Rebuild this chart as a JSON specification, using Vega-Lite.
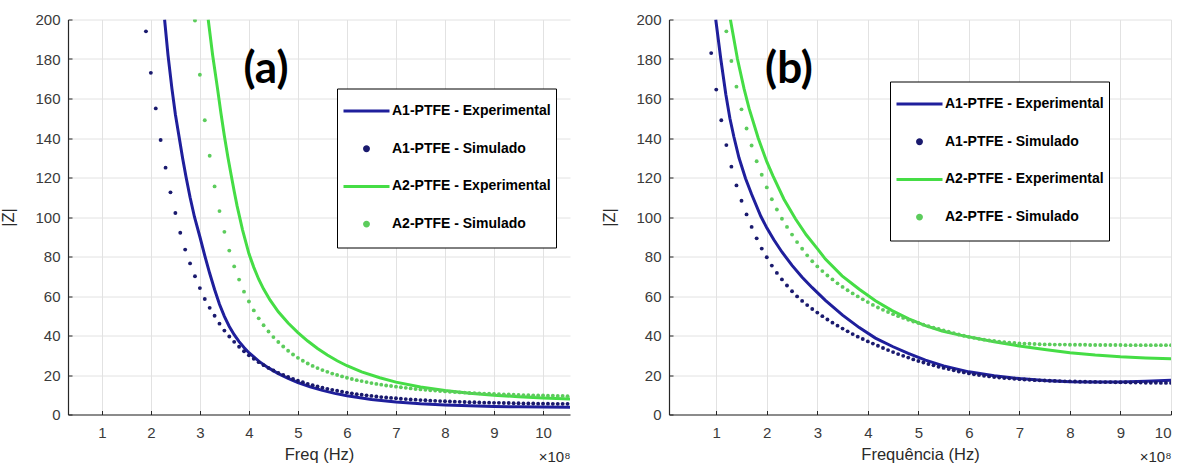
{
"$schema": "https://vega.github.io/schema/vega-lite/v6.json",
"background": "white",
"padding": {"left": 0, "top": 12.5, "right": 5, "bottom": 5},
"config": {
 "view": {"stroke": null},
 "axis": {"grid": true, "gridColor": "#e2e2e2", "gridWidth": 1, "domainColor": "#262626", "domainWidth": 1.2, "tickColor": "#262626", "tickSize": -4, "labelOverlap": false, "labelFont": "Liberation Sans", "labelFontSize": 15, "labelColor": "#3a3a3a", "titleFont": "Liberation Sans", "titleFontSize": 16.5, "titleFontWeight": "normal", "titleColor": "#2a2a2a"},
 "axisX": {"labelPadding": 14.5, "titlePadding": 6},
 "axisY": {"labelPadding": 12, "titlePadding": 18}
},
"datasets": {
 "a": [
  {"s":"A1e","f":2.28,"z":200},{"s":"A1e","f":2.35,"z":182},{"s":"A1e","f":2.43,"z":165},{"s":"A1e","f":2.5,"z":152},{"s":"A1e","f":2.58,"z":140},{"s":"A1e","f":2.65,"z":129.5},{"s":"A1e","f":2.72,"z":120},{"s":"A1e","f":2.8,"z":110},{"s":"A1e","f":2.89,"z":100},{"s":"A1e","f":3.0,"z":90},{"s":"A1e","f":3.1,"z":80.5},{"s":"A1e","f":3.2,"z":71.5},{"s":"A1e","f":3.3,"z":63.3},{"s":"A1e","f":3.4,"z":55.8},{"s":"A1e","f":3.5,"z":49.7},{"s":"A1e","f":3.6,"z":44.6},{"s":"A1e","f":3.7,"z":40.4},{"s":"A1e","f":3.8,"z":36.9},{"s":"A1e","f":3.9,"z":33.9},{"s":"A1e","f":4.0,"z":31.3},{"s":"A1e","f":4.2,"z":27},{"s":"A1e","f":4.4,"z":23.6},{"s":"A1e","f":4.6,"z":20.7},{"s":"A1e","f":4.8,"z":18.3},{"s":"A1e","f":5.0,"z":16.2},{"s":"A1e","f":5.25,"z":14},{"s":"A1e","f":5.5,"z":12.2},{"s":"A1e","f":5.75,"z":10.7},{"s":"A1e","f":6.0,"z":9.5},{"s":"A1e","f":6.5,"z":7.6},{"s":"A1e","f":7.0,"z":6.3},{"s":"A1e","f":7.5,"z":5.4},{"s":"A1e","f":8.0,"z":4.8},{"s":"A1e","f":8.5,"z":4.4},{"s":"A1e","f":9.0,"z":4.1},{"s":"A1e","f":9.5,"z":3.9},{"s":"A1e","f":10.0,"z":3.8},{"s":"A1e","f":10.55,"z":3.7},
  {"s":"A2e","f":3.17,"z":200},{"s":"A2e","f":3.26,"z":182},{"s":"A2e","f":3.36,"z":165},{"s":"A2e","f":3.43,"z":152.5},{"s":"A2e","f":3.5,"z":141},{"s":"A2e","f":3.57,"z":130.5},{"s":"A2e","f":3.64,"z":121},{"s":"A2e","f":3.7,"z":113},{"s":"A2e","f":3.76,"z":105.5},{"s":"A2e","f":3.87,"z":93.5},{"s":"A2e","f":4.0,"z":81.5},{"s":"A2e","f":4.1,"z":74.5},{"s":"A2e","f":4.2,"z":68.5},{"s":"A2e","f":4.3,"z":63.5},{"s":"A2e","f":4.43,"z":58},{"s":"A2e","f":4.6,"z":52},{"s":"A2e","f":4.8,"z":46.3},{"s":"A2e","f":5.0,"z":41.5},{"s":"A2e","f":5.2,"z":37.2},{"s":"A2e","f":5.4,"z":33.4},{"s":"A2e","f":5.6,"z":30.1},{"s":"A2e","f":5.8,"z":27.2},{"s":"A2e","f":6.0,"z":24.7},{"s":"A2e","f":6.3,"z":21.6},{"s":"A2e","f":6.67,"z":18.6},{"s":"A2e","f":7.0,"z":16.4},{"s":"A2e","f":7.5,"z":13.9},{"s":"A2e","f":8.0,"z":12.1},{"s":"A2e","f":8.5,"z":10.8},{"s":"A2e","f":9.0,"z":9.8},{"s":"A2e","f":9.5,"z":9.0},{"s":"A2e","f":10.0,"z":8.4},{"s":"A2e","f":10.55,"z":7.9},
  {"s":"A1s","f":1.9,"z":194},{"s":"A1s","f":2.0,"z":173},{"s":"A1s","f":2.1,"z":155},{"s":"A1s","f":2.2,"z":139},{"s":"A1s","f":2.3,"z":125},{"s":"A1s","f":2.4,"z":112.5},{"s":"A1s","f":2.5,"z":102},{"s":"A1s","f":2.6,"z":92},{"s":"A1s","f":2.7,"z":83.5},{"s":"A1s","f":2.8,"z":76.5},{"s":"A1s","f":2.9,"z":70},{"s":"A1s","f":3.0,"z":64},{"s":"A1s","f":3.1,"z":58.5},{"s":"A1s","f":3.2,"z":54},{"s":"A1s","f":3.3,"z":50},{"s":"A1s","f":3.4,"z":46},{"s":"A1s","f":3.5,"z":42.5},{"s":"A1s","f":3.6,"z":39.5},{"s":"A1s","f":3.7,"z":36.8},{"s":"A1s","f":3.8,"z":34.3},{"s":"A1s","f":3.9,"z":32},{"s":"A1s","f":4.0,"z":30},{"s":"A1s","f":4.1,"z":28.2},{"s":"A1s","f":4.2,"z":26.5},{"s":"A1s","f":4.3,"z":25},{"s":"A1s","f":4.4,"z":23.6},{"s":"A1s","f":4.5,"z":22.3},{"s":"A1s","f":4.6,"z":21.1},{"s":"A1s","f":4.7,"z":20},{"s":"A1s","f":4.8,"z":19},{"s":"A1s","f":4.9,"z":18},{"s":"A1s","f":5.0,"z":17.1},{"s":"A1s","f":5.1,"z":16.3},{"s":"A1s","f":5.2,"z":15.5},{"s":"A1s","f":5.3,"z":14.8},{"s":"A1s","f":5.4,"z":14.2},{"s":"A1s","f":5.5,"z":13.6},{"s":"A1s","f":5.6,"z":13},{"s":"A1s","f":5.7,"z":12.5},{"s":"A1s","f":5.8,"z":12},{"s":"A1s","f":5.9,"z":11.5},{"s":"A1s","f":6.0,"z":11.1},{"s":"A1s","f":6.1,"z":10.7},{"s":"A1s","f":6.2,"z":10.3},{"s":"A1s","f":6.3,"z":10},{"s":"A1s","f":6.4,"z":9.7},{"s":"A1s","f":6.5,"z":9.4},{"s":"A1s","f":6.6,"z":9.1},{"s":"A1s","f":6.7,"z":8.8},{"s":"A1s","f":6.8,"z":8.6},{"s":"A1s","f":6.9,"z":8.4},{"s":"A1s","f":7.0,"z":8.2},{"s":"A1s","f":7.1,"z":8},{"s":"A1s","f":7.2,"z":7.8},{"s":"A1s","f":7.3,"z":7.6},{"s":"A1s","f":7.4,"z":7.5},{"s":"A1s","f":7.5,"z":7.3},{"s":"A1s","f":7.6,"z":7.2},{"s":"A1s","f":7.7,"z":7},{"s":"A1s","f":7.8,"z":6.9},{"s":"A1s","f":7.9,"z":6.8},{"s":"A1s","f":8.0,"z":6.7},{"s":"A1s","f":8.1,"z":6.6},{"s":"A1s","f":8.2,"z":6.5},{"s":"A1s","f":8.3,"z":6.4},{"s":"A1s","f":8.4,"z":6.3},{"s":"A1s","f":8.5,"z":6.2},{"s":"A1s","f":8.6,"z":6.2},{"s":"A1s","f":8.7,"z":6.1},{"s":"A1s","f":8.8,"z":6},{"s":"A1s","f":8.9,"z":6},{"s":"A1s","f":9.0,"z":5.9},{"s":"A1s","f":9.1,"z":5.9},{"s":"A1s","f":9.2,"z":5.8},{"s":"A1s","f":9.3,"z":5.8},{"s":"A1s","f":9.4,"z":5.7},{"s":"A1s","f":9.5,"z":5.7},{"s":"A1s","f":9.6,"z":5.6},{"s":"A1s","f":9.7,"z":5.6},{"s":"A1s","f":9.8,"z":5.6},{"s":"A1s","f":9.9,"z":5.5},{"s":"A1s","f":10.0,"z":5.5},{"s":"A1s","f":10.1,"z":5.5},{"s":"A1s","f":10.2,"z":5.4},{"s":"A1s","f":10.3,"z":5.4},{"s":"A1s","f":10.4,"z":5.4},{"s":"A1s","f":10.5,"z":5.4},
  {"s":"A2s","f":2.9,"z":199.5},{"s":"A2s","f":3.0,"z":172},{"s":"A2s","f":3.1,"z":149},{"s":"A2s","f":3.2,"z":131},{"s":"A2s","f":3.3,"z":115.5},{"s":"A2s","f":3.4,"z":103},{"s":"A2s","f":3.5,"z":92.5},{"s":"A2s","f":3.6,"z":83},{"s":"A2s","f":3.7,"z":75},{"s":"A2s","f":3.8,"z":68.3},{"s":"A2s","f":3.9,"z":62.2},{"s":"A2s","f":4.0,"z":57.2},{"s":"A2s","f":4.1,"z":52.7},{"s":"A2s","f":4.2,"z":48.7},{"s":"A2s","f":4.3,"z":45.2},{"s":"A2s","f":4.4,"z":42},{"s":"A2s","f":4.5,"z":39.2},{"s":"A2s","f":4.6,"z":36.7},{"s":"A2s","f":4.7,"z":34.4},{"s":"A2s","f":4.8,"z":32.3},{"s":"A2s","f":4.9,"z":30.4},{"s":"A2s","f":5.0,"z":28.7},{"s":"A2s","f":5.1,"z":27.2},{"s":"A2s","f":5.2,"z":25.8},{"s":"A2s","f":5.3,"z":24.6},{"s":"A2s","f":5.4,"z":23.5},{"s":"A2s","f":5.5,"z":22.5},{"s":"A2s","f":5.6,"z":21.6},{"s":"A2s","f":5.7,"z":20.7},{"s":"A2s","f":5.8,"z":20},{"s":"A2s","f":5.9,"z":19.3},{"s":"A2s","f":6.0,"z":18.6},{"s":"A2s","f":6.1,"z":18},{"s":"A2s","f":6.2,"z":17.4},{"s":"A2s","f":6.3,"z":16.9},{"s":"A2s","f":6.4,"z":16.4},{"s":"A2s","f":6.5,"z":15.9},{"s":"A2s","f":6.6,"z":15.5},{"s":"A2s","f":6.7,"z":15.1},{"s":"A2s","f":6.8,"z":14.7},{"s":"A2s","f":6.9,"z":14.4},{"s":"A2s","f":7.0,"z":14.1},{"s":"A2s","f":7.1,"z":13.8},{"s":"A2s","f":7.2,"z":13.5},{"s":"A2s","f":7.3,"z":13.2},{"s":"A2s","f":7.4,"z":12.9},{"s":"A2s","f":7.5,"z":12.7},{"s":"A2s","f":7.6,"z":12.5},{"s":"A2s","f":7.7,"z":12.3},{"s":"A2s","f":7.8,"z":12.1},{"s":"A2s","f":7.9,"z":11.9},{"s":"A2s","f":8.0,"z":11.7},{"s":"A2s","f":8.1,"z":11.5},{"s":"A2s","f":8.2,"z":11.4},{"s":"A2s","f":8.3,"z":11.2},{"s":"A2s","f":8.4,"z":11.1},{"s":"A2s","f":8.5,"z":10.9},{"s":"A2s","f":8.6,"z":10.8},{"s":"A2s","f":8.7,"z":10.7},{"s":"A2s","f":8.8,"z":10.6},{"s":"A2s","f":8.9,"z":10.5},{"s":"A2s","f":9.0,"z":10.4},{"s":"A2s","f":9.1,"z":10.3},{"s":"A2s","f":9.2,"z":10.2},{"s":"A2s","f":9.3,"z":10.1},{"s":"A2s","f":9.4,"z":10},{"s":"A2s","f":9.5,"z":9.9},{"s":"A2s","f":9.6,"z":9.8},{"s":"A2s","f":9.7,"z":9.8},{"s":"A2s","f":9.8,"z":9.7},{"s":"A2s","f":9.9,"z":9.6},{"s":"A2s","f":10.0,"z":9.6},{"s":"A2s","f":10.1,"z":9.5},{"s":"A2s","f":10.2,"z":9.5},{"s":"A2s","f":10.3,"z":9.4},{"s":"A2s","f":10.4,"z":9.4},{"s":"A2s","f":10.5,"z":9.3}
 ],
 "b": [
  {"s":"A1e","f":0.99,"z":200},{"s":"A1e","f":1.09,"z":180},{"s":"A1e","f":1.19,"z":162},{"s":"A1e","f":1.27,"z":150},{"s":"A1e","f":1.35,"z":140.5},{"s":"A1e","f":1.45,"z":130},{"s":"A1e","f":1.58,"z":119.5},{"s":"A1e","f":1.7,"z":111.5},{"s":"A1e","f":1.88,"z":100.5},{"s":"A1e","f":2.0,"z":94.5},{"s":"A1e","f":2.14,"z":88.5},{"s":"A1e","f":2.3,"z":82.3},{"s":"A1e","f":2.5,"z":75.5},{"s":"A1e","f":2.7,"z":69.5},{"s":"A1e","f":2.9,"z":64.2},{"s":"A1e","f":3.16,"z":57.8},{"s":"A1e","f":3.5,"z":50.3},{"s":"A1e","f":3.83,"z":44},{"s":"A1e","f":4.15,"z":38.7},{"s":"A1e","f":4.5,"z":34.3},{"s":"A1e","f":4.8,"z":30.9},{"s":"A1e","f":5.14,"z":27.5},{"s":"A1e","f":5.5,"z":24.6},{"s":"A1e","f":6.0,"z":21.6},{"s":"A1e","f":6.5,"z":19.6},{"s":"A1e","f":7.0,"z":18.2},{"s":"A1e","f":7.5,"z":17.2},{"s":"A1e","f":8.0,"z":16.6},{"s":"A1e","f":8.5,"z":16.4},{"s":"A1e","f":9.0,"z":16.5},{"s":"A1e","f":9.5,"z":16.8},{"s":"A1e","f":10.0,"z":17.3},
  {"s":"A2e","f":1.28,"z":200},{"s":"A2e","f":1.42,"z":180},{"s":"A2e","f":1.55,"z":165},{"s":"A2e","f":1.65,"z":155},{"s":"A2e","f":1.83,"z":140},{"s":"A2e","f":2.0,"z":128},{"s":"A2e","f":2.12,"z":121},{"s":"A2e","f":2.34,"z":109},{"s":"A2e","f":2.57,"z":99},{"s":"A2e","f":2.78,"z":91},{"s":"A2e","f":3.0,"z":84},{"s":"A2e","f":3.16,"z":78.7},{"s":"A2e","f":3.49,"z":70.2},{"s":"A2e","f":3.83,"z":63.4},{"s":"A2e","f":4.15,"z":57.6},{"s":"A2e","f":4.48,"z":52.6},{"s":"A2e","f":4.81,"z":48.4},{"s":"A2e","f":5.14,"z":45},{"s":"A2e","f":5.47,"z":42.3},{"s":"A2e","f":5.8,"z":40.3},{"s":"A2e","f":6.0,"z":39.3},{"s":"A2e","f":6.5,"z":36.8},{"s":"A2e","f":7.0,"z":34.7},{"s":"A2e","f":7.5,"z":32.9},{"s":"A2e","f":8.0,"z":31.3},{"s":"A2e","f":8.5,"z":30.1},{"s":"A2e","f":9.0,"z":29.2},{"s":"A2e","f":9.5,"z":28.6},{"s":"A2e","f":10.0,"z":28.2},
  {"s":"A1s","f":0.9,"z":183},{"s":"A1s","f":1.0,"z":164.5},{"s":"A1s","f":1.1,"z":149},{"s":"A1s","f":1.2,"z":136.4},{"s":"A1s","f":1.3,"z":125.5},{"s":"A1s","f":1.4,"z":116},{"s":"A1s","f":1.5,"z":108.2},{"s":"A1s","f":1.6,"z":101.3},{"s":"A1s","f":1.7,"z":95},{"s":"A1s","f":1.8,"z":89.2},{"s":"A1s","f":1.9,"z":84},{"s":"A1s","f":2.0,"z":79.6},{"s":"A1s","f":2.1,"z":75.4},{"s":"A1s","f":2.2,"z":71.7},{"s":"A1s","f":2.3,"z":68.4},{"s":"A1s","f":2.4,"z":65.3},{"s":"A1s","f":2.5,"z":62.4},{"s":"A1s","f":2.6,"z":59.8},{"s":"A1s","f":2.7,"z":57.5},{"s":"A1s","f":2.8,"z":55.4},{"s":"A1s","f":2.9,"z":53.4},{"s":"A1s","f":3.0,"z":51.6},{"s":"A1s","f":3.1,"z":49.8},{"s":"A1s","f":3.2,"z":48.1},{"s":"A1s","f":3.3,"z":46.5},{"s":"A1s","f":3.4,"z":45},{"s":"A1s","f":3.5,"z":43.5},{"s":"A1s","f":3.6,"z":42.1},{"s":"A1s","f":3.7,"z":40.7},{"s":"A1s","f":3.8,"z":39.4},{"s":"A1s","f":3.9,"z":38.2},{"s":"A1s","f":4.0,"z":37},{"s":"A1s","f":4.1,"z":35.9},{"s":"A1s","f":4.2,"z":34.8},{"s":"A1s","f":4.3,"z":33.7},{"s":"A1s","f":4.4,"z":32.6},{"s":"A1s","f":4.5,"z":31.6},{"s":"A1s","f":4.6,"z":30.6},{"s":"A1s","f":4.7,"z":29.7},{"s":"A1s","f":4.8,"z":28.8},{"s":"A1s","f":4.9,"z":27.9},{"s":"A1s","f":5.0,"z":27.1},{"s":"A1s","f":5.1,"z":26.3},{"s":"A1s","f":5.2,"z":25.6},{"s":"A1s","f":5.3,"z":24.9},{"s":"A1s","f":5.4,"z":24.2},{"s":"A1s","f":5.5,"z":23.6},{"s":"A1s","f":5.6,"z":23},{"s":"A1s","f":5.7,"z":22.4},{"s":"A1s","f":5.8,"z":21.8},{"s":"A1s","f":5.9,"z":21.3},{"s":"A1s","f":6.0,"z":20.8},{"s":"A1s","f":6.1,"z":20.4},{"s":"A1s","f":6.2,"z":20},{"s":"A1s","f":6.3,"z":19.6},{"s":"A1s","f":6.4,"z":19.3},{"s":"A1s","f":6.5,"z":19},{"s":"A1s","f":6.6,"z":18.7},{"s":"A1s","f":6.7,"z":18.5},{"s":"A1s","f":6.8,"z":18.3},{"s":"A1s","f":6.9,"z":18.1},{"s":"A1s","f":7.0,"z":17.9},{"s":"A1s","f":7.1,"z":17.7},{"s":"A1s","f":7.2,"z":17.6},{"s":"A1s","f":7.3,"z":17.4},{"s":"A1s","f":7.4,"z":17.3},{"s":"A1s","f":7.5,"z":17.2},{"s":"A1s","f":7.6,"z":17.1},{"s":"A1s","f":7.7,"z":17},{"s":"A1s","f":7.8,"z":16.9},{"s":"A1s","f":7.9,"z":16.8},{"s":"A1s","f":8.0,"z":16.8},{"s":"A1s","f":8.1,"z":16.7},{"s":"A1s","f":8.2,"z":16.6},{"s":"A1s","f":8.3,"z":16.6},{"s":"A1s","f":8.4,"z":16.5},{"s":"A1s","f":8.5,"z":16.5},{"s":"A1s","f":8.6,"z":16.4},{"s":"A1s","f":8.7,"z":16.4},{"s":"A1s","f":8.8,"z":16.4},{"s":"A1s","f":8.9,"z":16.3},{"s":"A1s","f":9.0,"z":16.3},{"s":"A1s","f":9.1,"z":16.3},{"s":"A1s","f":9.2,"z":16.2},{"s":"A1s","f":9.3,"z":16.2},{"s":"A1s","f":9.4,"z":16.2},{"s":"A1s","f":9.5,"z":16.1},{"s":"A1s","f":9.6,"z":16.1},{"s":"A1s","f":9.7,"z":16.1},{"s":"A1s","f":9.8,"z":16},{"s":"A1s","f":9.9,"z":16},{"s":"A1s","f":10.0,"z":16},
  {"s":"A2s","f":1.2,"z":194},{"s":"A2s","f":1.3,"z":179},{"s":"A2s","f":1.4,"z":166},{"s":"A2s","f":1.5,"z":154.5},{"s":"A2s","f":1.6,"z":144.8},{"s":"A2s","f":1.7,"z":136.2},{"s":"A2s","f":1.8,"z":128.2},{"s":"A2s","f":1.9,"z":121.4},{"s":"A2s","f":2.0,"z":115},{"s":"A2s","f":2.1,"z":109},{"s":"A2s","f":2.2,"z":103.8},{"s":"A2s","f":2.3,"z":99.1},{"s":"A2s","f":2.4,"z":95},{"s":"A2s","f":2.5,"z":91.1},{"s":"A2s","f":2.6,"z":87.3},{"s":"A2s","f":2.7,"z":83.9},{"s":"A2s","f":2.8,"z":80.6},{"s":"A2s","f":2.9,"z":77.6},{"s":"A2s","f":3.0,"z":75},{"s":"A2s","f":3.1,"z":72.6},{"s":"A2s","f":3.2,"z":70.4},{"s":"A2s","f":3.3,"z":68.4},{"s":"A2s","f":3.4,"z":66.4},{"s":"A2s","f":3.5,"z":64.6},{"s":"A2s","f":3.6,"z":62.9},{"s":"A2s","f":3.7,"z":61.3},{"s":"A2s","f":3.8,"z":59.8},{"s":"A2s","f":3.9,"z":58.3},{"s":"A2s","f":4.0,"z":56.9},{"s":"A2s","f":4.1,"z":55.5},{"s":"A2s","f":4.2,"z":54.2},{"s":"A2s","f":4.3,"z":53},{"s":"A2s","f":4.4,"z":51.9},{"s":"A2s","f":4.5,"z":50.8},{"s":"A2s","f":4.6,"z":49.8},{"s":"A2s","f":4.7,"z":48.9},{"s":"A2s","f":4.8,"z":48},{"s":"A2s","f":4.9,"z":47.1},{"s":"A2s","f":5.0,"z":46.3},{"s":"A2s","f":5.1,"z":45.5},{"s":"A2s","f":5.2,"z":44.7},{"s":"A2s","f":5.3,"z":44},{"s":"A2s","f":5.4,"z":43.3},{"s":"A2s","f":5.5,"z":42.6},{"s":"A2s","f":5.6,"z":41.9},{"s":"A2s","f":5.7,"z":41.2},{"s":"A2s","f":5.8,"z":40.5},{"s":"A2s","f":5.9,"z":39.9},{"s":"A2s","f":6.0,"z":39.3},{"s":"A2s","f":6.1,"z":38.8},{"s":"A2s","f":6.2,"z":38.3},{"s":"A2s","f":6.3,"z":37.9},{"s":"A2s","f":6.4,"z":37.5},{"s":"A2s","f":6.5,"z":37.2},{"s":"A2s","f":6.6,"z":36.9},{"s":"A2s","f":6.7,"z":36.6},{"s":"A2s","f":6.8,"z":36.4},{"s":"A2s","f":6.9,"z":36.2},{"s":"A2s","f":7.0,"z":36},{"s":"A2s","f":7.1,"z":35.9},{"s":"A2s","f":7.2,"z":35.8},{"s":"A2s","f":7.3,"z":35.7},{"s":"A2s","f":7.4,"z":35.6},{"s":"A2s","f":7.5,"z":35.5},{"s":"A2s","f":7.6,"z":35.5},{"s":"A2s","f":7.7,"z":35.4},{"s":"A2s","f":7.8,"z":35.4},{"s":"A2s","f":7.9,"z":35.4},{"s":"A2s","f":8.0,"z":35.3},{"s":"A2s","f":8.1,"z":35.3},{"s":"A2s","f":8.2,"z":35.3},{"s":"A2s","f":8.3,"z":35.3},{"s":"A2s","f":8.4,"z":35.2},{"s":"A2s","f":8.5,"z":35.2},{"s":"A2s","f":8.6,"z":35.2},{"s":"A2s","f":8.7,"z":35.2},{"s":"A2s","f":8.8,"z":35.2},{"s":"A2s","f":8.9,"z":35.2},{"s":"A2s","f":9.0,"z":35.2},{"s":"A2s","f":9.1,"z":35.1},{"s":"A2s","f":9.2,"z":35.1},{"s":"A2s","f":9.3,"z":35.1},{"s":"A2s","f":9.4,"z":35.1},{"s":"A2s","f":9.5,"z":35.1},{"s":"A2s","f":9.6,"z":35.1},{"s":"A2s","f":9.7,"z":35.1},{"s":"A2s","f":9.8,"z":35.1},{"s":"A2s","f":9.9,"z":35.1},{"s":"A2s","f":10.0,"z":35.1}
 ],
 "ta": [{"t":"(a)","f":4.35,"z":174.5}],
 "tb": [{"t":"(b)","f":2.44,"z":174.5}]
},
"hconcat": [
 {
  "width": 502, "height": 395,
  "encoding": {
   "y": {"field": "z", "type": "quantitative", "scale": {"domain": [0, 200], "nice": false}, "axis": {"values": [0,20,40,60,80,100,120,140,160,180,200], "tickCount": 11, "title": "|Z|", "labelOverlap": false, "labelBound": false}}
  },
  "layer": [
   {"data": {"name": "a"}, "transform": [{"filter": "datum.s == 'A1e' || datum.s == 'A2e'"}],
    "mark": {"type": "line", "strokeWidth": 3, "clip": true},
    "encoding": {
     "x": {"field": "f", "type": "quantitative", "scale": {"domain": [0.31, 10.55], "nice": false, "zero": false}, "axis": {"values": [1,2,3,4,5,6,7,8,9,10], "title": "Freq (Hz)", "labelOverlap": false}},
     "color": {"field": "s", "type": "nominal", "scale": {"domain": ["A1e","A1s","A2e","A2s"], "range": ["#1f1f9c","#1a1a6e","#45dd45","#5ccc5c"]},
      "legend": {"orient": "none", "legendX": 269, "legendY": 69, "title": null, "padding": 5, "strokeColor": "#000", "fillColor": "#fff", "clipHeight": 35, "rowPadding": 2.7, "labelFont": "Liberation Sans", "labelFontSize": 14, "labelFontWeight": "bold", "labelColor": "#000", "labelOffset": 1, "symbolSize": 2116, "symbolStrokeWidth": 3,
       "labelExpr": "datum.value == 'A1e' ? 'A1-PTFE - Experimental' : datum.value == 'A1s' ? 'A1-PTFE - Simulado' : datum.value == 'A2e' ? 'A2-PTFE - Experimental' : 'A2-PTFE - Simulado'",
       "encode": {"symbols": {"update": {
        "shape": {"signal": "datum.value == 'A1e' || datum.value == 'A2e' ? 'stroke' : 'M-0.085,0A0.085,0.085,0,1,1,0.085,0A0.085,0.085,0,1,1,-0.085,0Z'"},
        "stroke": {"signal": "datum.value == 'A1e' ? '#1f1f9c' : datum.value == 'A2e' ? '#45dd45' : 'transparent'"},
        "fill": {"signal": "datum.value == 'A1s' ? '#1a1a6e' : datum.value == 'A2s' ? '#5ccc5c' : 'transparent'"},
        "strokeWidth": {"value": 3}, "opacity": {"value": 1}}}}}}
    }},
   {"data": {"name": "a"}, "transform": [{"filter": "datum.s == 'A1s' || datum.s == 'A2s'"}],
    "mark": {"type": "point", "filled": true, "size": 15, "opacity": 1, "clip": true},
    "encoding": {
     "x": {"field": "f", "type": "quantitative", "axis": null},
     "color": {"field": "s", "type": "nominal"}
    }},
   {"data": {"name": "ta"},
    "mark": {"type": "text", "font": "Lato", "fontWeight": "bold", "fontSize": 44, "color": "#000"},
    "encoding": {
     "x": {"field": "f", "type": "quantitative", "axis": {"title": "×10⁸", "orient": "bottom", "labels": false, "ticks": false, "domain": false, "grid": false, "titleAnchor": "end", "titlePadding": 35, "titleFontSize": 15}},
     "text": {"field": "t"}
    }}
  ],
  "resolve": {"axis": {"x": "independent"}}
 },
 {
  "width": 502, "height": 395,
  "encoding": {
   "y": {"field": "z", "type": "quantitative", "scale": {"domain": [0, 200], "nice": false}, "axis": {"values": [0,20,40,60,80,100,120,140,160,180,200], "tickCount": 11, "title": "|Z|", "labelOverlap": false, "labelBound": false}}
  },
  "layer": [
   {"data": {"name": "b"}, "transform": [{"filter": "datum.s == 'A1e' || datum.s == 'A2e'"}],
    "mark": {"type": "line", "strokeWidth": 3, "clip": true},
    "encoding": {
     "x": {"field": "f", "type": "quantitative", "scale": {"domain": [0.065, 10], "nice": false, "zero": false}, "axis": {"values": [1,2,3,4,5,6,7,8,9,10], "title": "Frequência (Hz)", "labelOverlap": false}},
     "color": {"field": "s", "type": "nominal", "scale": {"domain": ["A1e","A1s","A2e","A2s"], "range": ["#1f1f9c","#1a1a6e","#45dd45","#5ccc5c"]},
      "legend": {"orient": "none", "legendX": 221, "legendY": 62, "title": null, "padding": 5, "strokeColor": "#000", "fillColor": "#fff", "clipHeight": 35, "rowPadding": 2.7, "labelFont": "Liberation Sans", "labelFontSize": 14, "labelFontWeight": "bold", "labelColor": "#000", "labelOffset": 1, "symbolSize": 2116, "symbolStrokeWidth": 3,
       "labelExpr": "datum.value == 'A1e' ? 'A1-PTFE - Experimental' : datum.value == 'A1s' ? 'A1-PTFE - Simulado' : datum.value == 'A2e' ? 'A2-PTFE - Experimental' : 'A2-PTFE - Simulado'",
       "encode": {"symbols": {"update": {
        "shape": {"signal": "datum.value == 'A1e' || datum.value == 'A2e' ? 'stroke' : 'M-0.085,0A0.085,0.085,0,1,1,0.085,0A0.085,0.085,0,1,1,-0.085,0Z'"},
        "stroke": {"signal": "datum.value == 'A1e' ? '#1f1f9c' : datum.value == 'A2e' ? '#45dd45' : 'transparent'"},
        "fill": {"signal": "datum.value == 'A1s' ? '#1a1a6e' : datum.value == 'A2s' ? '#5ccc5c' : 'transparent'"},
        "strokeWidth": {"value": 3}, "opacity": {"value": 1}}}}}}
    }},
   {"data": {"name": "b"}, "transform": [{"filter": "datum.s == 'A1s' || datum.s == 'A2s'"}],
    "mark": {"type": "point", "filled": true, "size": 15, "opacity": 1, "clip": true},
    "encoding": {
     "x": {"field": "f", "type": "quantitative", "axis": null},
     "color": {"field": "s", "type": "nominal"}
    }},
   {"data": {"name": "tb"},
    "mark": {"type": "text", "font": "Lato", "fontWeight": "bold", "fontSize": 44, "color": "#000"},
    "encoding": {
     "x": {"field": "f", "type": "quantitative", "axis": {"title": "×10⁸", "orient": "bottom", "labels": false, "ticks": false, "domain": false, "grid": false, "titleAnchor": "end", "titlePadding": 35, "titleFontSize": 15}},
     "text": {"field": "t"}
    }}
  ],
  "resolve": {"axis": {"x": "independent"}}
 }
],
"spacing": 31,
"resolve": {"scale": {"x": "independent", "y": "independent", "color": "independent"}, "legend": {"color": "independent"}}
}
